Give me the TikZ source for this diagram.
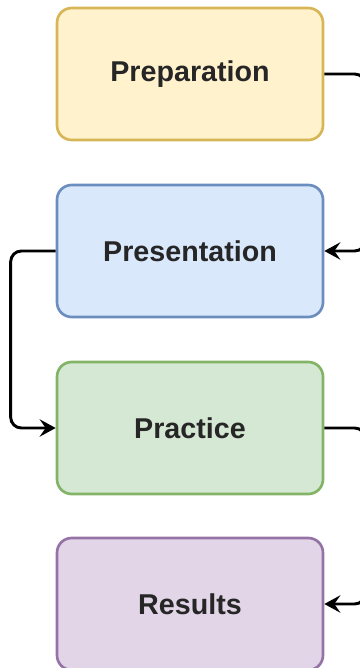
\documentclass[tikz,border=0pt]{standalone}
\usepackage{fontspec}
\setmainfont{Liberation Sans}
\usetikzlibrary{arrows.meta}
\definecolor{yfill}{HTML}{FFF2CC}\definecolor{ydraw}{HTML}{D6B656}
\definecolor{bfill}{HTML}{DAE8FC}\definecolor{bdraw}{HTML}{6C8EBF}
\definecolor{gfill}{HTML}{D5E8D4}\definecolor{gdraw}{HTML}{82B366}
\definecolor{pfill}{HTML}{E1D5E7}\definecolor{pdraw}{HTML}{9673A6}
\definecolor{txt}{HTML}{262626}
\begin{document}
\begin{tikzpicture}[x=0.75pt,y=-0.75pt,
  box/.style={rectangle,rounded corners=11pt,line width=2pt,minimum width=199.5pt,minimum height=99pt,inner sep=0pt,font=\fontsize{21.5}{25}\selectfont\bfseries,text=txt},
  conn/.style={line width=2.2pt,rounded corners=8pt,-{Stealth[length=12pt,width=13pt,inset=4.5pt]}}]
\useasboundingbox (0,0) rectangle (360,668);
\node[box,fill=yfill,draw=ydraw] (prep) at (190,74) {Preparation};
\node[box,fill=bfill,draw=bdraw] (pres) at (190,251) {Presentation};
\node[box,fill=gfill,draw=gdraw] (prac) at (190,428) {Practice};
\node[box,fill=pfill,draw=pdraw] (res) at (190,604) {Results};
\draw[conn] (prep.east) -- ++(41,0) |- (pres.east);
\draw[conn] (pres.west) -- ++(-45,0) |- (prac.west);
\draw[conn] (prac.east) -- ++(41,0) |- (res.east);
\end{tikzpicture}
\end{document}
